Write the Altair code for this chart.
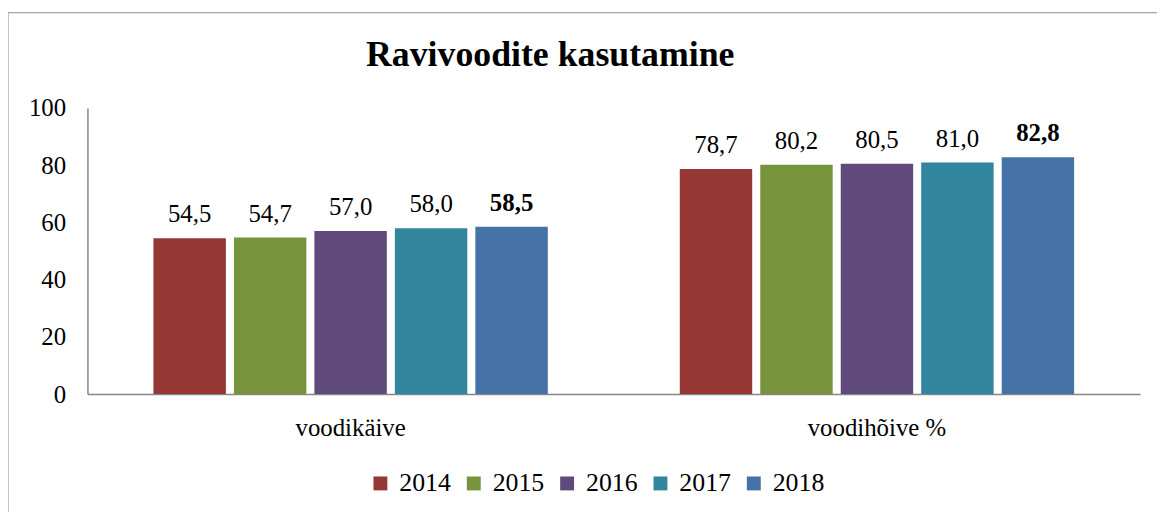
import altair as alt
import pandas as pd

categories = ["voodikäive", "voodihõive %"]
years = ["2014", "2015", "2016", "2017", "2018"]
voodikaive = [54.5, 54.7, 57.0, 58.0, 58.5]
voodihoive = [78.7, 80.2, 80.5, 81.0, 82.8]
colors = ["#953735", "#77933C", "#604A7B", "#31859C", "#4572A7"]
y_ticks = [0, 20, 40, 60, 80, 100]
title_text = "Ravivoodite kasutamine"

rows = []
for cat, vals in zip(categories, [voodikaive, voodihoive]):
    for yr, v in zip(years, vals):
        rows.append({"kategooria": cat, "aasta": yr, "vaartus": v,
                     "silt": f"{v:.1f}".replace(".", ",")})
df = pd.DataFrame(rows)

FONT = "Liberation Serif, Times New Roman, DejaVu Serif, serif"
AXIS_COLOR = "#868686"

x = alt.X("kategooria:N", sort=categories,
          scale=alt.Scale(paddingInner=0, paddingOuter=0),
          axis=alt.Axis(title=None, labelAngle=0, ticks=False, labelFontSize=25,
                        labelFont=FONT, labelColor="black", labelPadding=22,
                        domainColor=AXIS_COLOR, domainWidth=1.5))
xoff = alt.XOffset("aasta:N", sort=years,
                   scale=alt.Scale(paddingInner=0.1, paddingOuter=0.82))
y = alt.Y("vaartus:Q", scale=alt.Scale(domain=[0, 100]),
          axis=alt.Axis(title=None, values=y_ticks, grid=False, ticks=False,
                        labelFontSize=25, labelFont=FONT, labelColor="black",
                        labelPadding=22, labelFlush=False,
                        domainColor=AXIS_COLOR, domainWidth=1.5))
color = alt.Color("aasta:N", sort=years,
                  scale=alt.Scale(domain=years, range=colors),
                  legend=alt.Legend(title=None, orient="none", legendX=282, legendY=365,
                                    direction="horizontal", symbolType="square",
                                    symbolSize=196, symbolStrokeWidth=0,
                                    labelFontSize=26, labelFont=FONT, labelColor="black",
                                    columnPadding=10, labelOffset=6))

base = alt.Chart(df)
one = pd.DataFrame({"k": [0]})

frame = alt.Chart(one).mark_rect(
    filled=False, stroke="#8c8c8c", strokeWidth=1
).encode(x=alt.value(-80), x2=alt.value(1300), y=alt.value(-96), y2=alt.value(600))

title = alt.Chart(one).mark_text(
    align="center", baseline="alphabetic", font=FONT, fontSize=36,
    fontWeight="bold", color="black"
).encode(x=alt.value(466), y=alt.value(-42), text=alt.value(title_text))

bars = base.mark_bar().encode(x=x, xOffset=xoff, y=y, color=color)

labels = base.transform_filter(alt.datum.aasta != "2018").mark_text(
    baseline="alphabetic", dy=-16, fontSize=25, font=FONT, color="black"
).encode(x=x, xOffset=xoff, y=y, text="silt:N")

labels_bold = base.transform_filter(alt.datum.aasta == "2018").mark_text(
    baseline="alphabetic", dy=-16, fontSize=25, font=FONT, color="black", fontWeight="bold"
).encode(x=x, xOffset=xoff, y=y, text="silt:N")

chart = alt.layer(frame, title, bars, labels, labels_bold).properties(
    width=1060, height=288,
    autosize=alt.AutoSizeParams(type="none"),
    padding={"left": 80, "top": 99, "right": 17, "bottom": 117},
).configure_view(stroke=None)

chart.save("out.html", embed_options={"renderer": "svg", "actions": False})
